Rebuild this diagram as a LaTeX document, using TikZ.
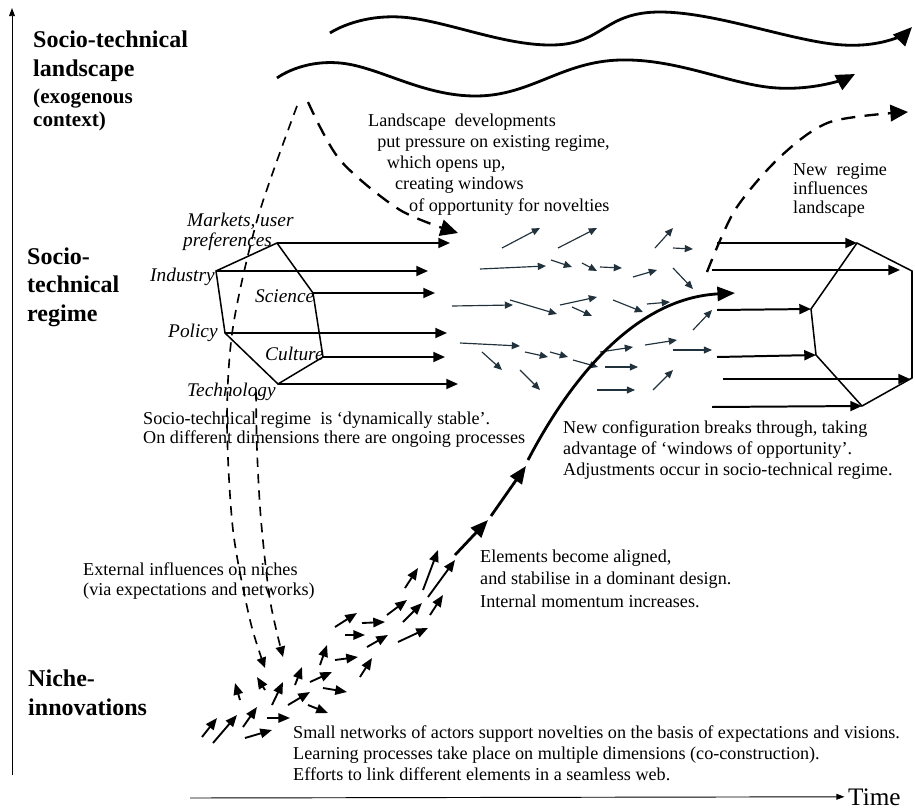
\documentclass[tikz,border=0pt]{standalone}
\usepackage{fontspec}
\setmainfont{Liberation Serif}
\usepackage{tikz}
\usetikzlibrary{arrows.meta}
\definecolor{drift}{RGB}{33,50,60}
\tikzset{
    level-title/.style = {font=\fontsize{20.5}{24}\selectfont\bfseries, align=left, anchor=base west, inner sep=0pt},
    level-subtitle/.style = {font=\fontsize{18}{19.5}\selectfont\bfseries, align=left, anchor=base west, inner sep=0pt},
    note-text/.style = {font=\fontsize{15.5}{#1}\selectfont, align=left, anchor=base west, inner sep=0pt},
    note-text/.default = 18pt,
    dimension-label/.style = {font=\fontsize{16.5}{17}\selectfont\itshape, align=left, anchor=base west, inner sep=0pt},
    axis-arrow/.style = {line width=0.8pt, -{Triangle[length=7pt,width=5pt]}},
    wave-arrow/.style = {line width=2.4pt, -{Triangle[length=16pt,width=14pt]}},
    influence/.style = {line width=1.4pt, dash pattern=on 8pt off 6pt, -{Triangle[length=9pt,width=8pt]}},
    pressure/.style = {line width=2pt, dash pattern=on 12pt off 8pt, -{Triangle[length=15pt,width=14pt]}},
    regime-line/.style = {line width=1.3pt, line join=miter},
    regime-arrow/.style = {line width=1.7pt, -{Triangle[length=10pt,width=8.5pt]}},
    drift-arrow/.style = {draw=drift, line width=1pt, -{Triangle[length=7pt,width=6pt]}},
    niche-arrow/.style = {line width=1.6pt, -{Triangle[length=10pt,width=8pt]}},
    breakthrough/.style = {line width=2.4pt, -{Triangle[length=15pt,width=12pt]}},
}

\begin{document}
\begin{tikzpicture}[x=0.03cm, y=-0.03cm]
\useasboundingbox (0,0) rectangle (915,809);

% axes
\coordinate (level-foot) at (12,775);
\coordinate (level-head) at (12,8);
\draw[axis-arrow] (level-foot) -- (level-head);
\node[anchor=base west, inner sep=0pt, font=\fontsize{21.5}{22}\selectfont] (time) at (848,805) {Time};
\coordinate (time-foot) at (190,798);
\draw[axis-arrow] (time-foot) -- ([xshift=-3pt]time.west);

% level titles
\node[level-title] (landscape-title) at (33,76) {Socio-technical\\landscape};
\node[level-subtitle] (landscape-subtitle) at (33,126) {(exogenous\\context)};
\node[level-title] (regime-title) at (27,321) {Socio-\\technical\\regime};
\node[level-title] (niche-title) at (28,715) {Niche-\\innovations};

% landscape
\draw[wave-arrow] plot[smooth, tension=0.7] coordinates {(330,33) (400,17) (553,45) (660,12) (843,45) (912,27)};
\draw[wave-arrow] plot[smooth, tension=0.7] coordinates {(277,78) (340,63) (477,96) (620,60) (777,88) (855,74)};

\draw[influence] plot[smooth] coordinates {(297,106) (258,217) (233,327) (227,420) (233,530) (250,620) (265,668)};
\draw[influence] plot[smooth] coordinates {(256,392) (257,450) (261,520) (270,600) (283,657)};
\draw[pressure] plot[smooth] coordinates {(308,102) (340,160) (400,210) (458,233)};
\draw[pressure] plot[smooth] coordinates {(707,272) (735,210) (780,157) (830,122) (908,112)};

% existing regime
\coordinate (markets) at (277,243);
\coordinate (science) at (313,293);
\coordinate (culture) at (323,357);
\coordinate (technology) at (278,384);
\coordinate (policy) at (225,333);
\coordinate (industry) at (216,271);
\draw[regime-line] (markets) -- (science) -- (culture) -- (technology) -- (policy) -- (industry) -- cycle;

\coordinate (markets-end) at (450,243);
\coordinate (industry-end) at (428,271);
\coordinate (science-end) at (435,293);
\coordinate (policy-end) at (447,333);
\coordinate (culture-end) at (445,357);
\coordinate (technology-end) at (458,384);
\draw[regime-arrow] (markets) -- (markets-end);
\draw[regime-arrow] (industry) -- (industry-end);
\draw[regime-arrow] (science) -- (science-end);
\draw[regime-arrow] (policy) -- (policy-end);
\draw[regime-arrow] (culture) -- (culture-end);
\draw[regime-arrow] (technology) -- (technology-end);

\node[dimension-label] (markets-label) at (183,246) {\hspace*{3.4pt}Markets, user\\preferences};
\node[dimension-label] (industry-label) at (150,281) {Industry};
\node[dimension-label] (science-label) at (255,302) {Science};
\node[dimension-label] (policy-label) at (168,337) {Policy};
\node[dimension-label] (culture-label) at (265,360) {Culture};
\node[dimension-label] (technology-label) at (187,396) {Technology};

% windows of opportunity
\foreach \sx/\sy/\tx/\ty in {502/248/540/228, 558/248/597/228, 480/269/546/266, 551/260/572/267,
    582/263/597/271, 600/267/622/268, 633/277/657/270, 655/248/673/228, 673/248/693/249,
    673/268/693/289, 452/306/513/305, 510/300/557/314, 560/305/597/297, 572/307/592/316,
    613/300/643/312, 647/304/670/302, 693/330/712/310, 460/343/520/346, 482/352/502/370,
    525/352/548/357, 550/352/568/357, 573/360/598/367, 520/370/540/390, 600/352/633/347,
    645/345/677/340, 673/350/712/350, 605/367/638/367, 597/390/635/390, 653/390/673/370}
    \draw[drift-arrow] (\sx,\sy) -- (\tx,\ty);

% new regime
\coordinate (new-top) at (857,243);
\coordinate (new-upper) at (912,271);
\coordinate (new-lower) at (912,378);
\coordinate (new-bottom) at (862,406);
\coordinate (new-left-low) at (816,355);
\coordinate (new-left-high) at (811,309);
\draw[regime-line] (new-top) -- (new-upper) -- (new-lower) -- (new-bottom) -- (new-left-low) -- (new-left-high) -- cycle;

\coordinate (new-start-1) at (717,243);
\coordinate (new-start-2) at (712,270);
\coordinate (new-start-3) at (717,310);
\coordinate (new-start-4) at (717,357);
\coordinate (new-start-5) at (723,379);
\coordinate (new-start-6) at (712,407);
\coordinate (new-end-2) at (900,270);
\coordinate (new-end-5) at (910,379);
\draw[regime-arrow] (new-start-1) -- (new-top);
\draw[regime-arrow] (new-start-2) -- (new-end-2);
\draw[regime-arrow] (new-start-3) -- (new-left-high);
\draw[regime-arrow] (new-start-4) -- (new-left-low);
\draw[regime-arrow] (new-start-5) -- (new-end-5);
\draw[regime-arrow] (new-start-6) -- (new-bottom);

% niches
\foreach \sx/\sy/\tx/\ty in {202/737/217/718, 213/743/237/715, 243/727/257/707, 245/738/272/730,
    267/718/290/718, 240/700/235/683, 265/690/257/677, 272/705/283/682, 288/705/310/692,
    295/685/302/667, 308/705/328/713, 310/682/332/672, 323/688/347/692, 320/665/327/645,
    335/660/358/657, 360/677/372/658, 335/627/357/613, 345/635/365/635, 362/623/385/622,
    367/647/388/635, 387/615/407/600, 398/642/428/628, 403/622/422/603, 430/615/443/595,
    405/588/418/568, 423/590/438/550, 428/597/455/560}
    \draw[niche-arrow] (\sx,\sy) -- (\tx,\ty);

\coordinate (take-off) at (455,555);
\coordinate (aligned) at (488,520);
\coordinate (momentum) at (491,516);
\coordinate (dominant) at (526,466);
\coordinate (breaking) at (528,460);
\coordinate (new-config) at (735,293);
\draw[breakthrough] (take-off) -- (aligned);
\draw[breakthrough] (momentum) -- (dominant);
\draw[breakthrough] (breaking) .. controls (575,370) and (640,298) .. (new-config);

% notes
\node[note-text=18.1pt] (pressure-note) at (368,211) {Landscape\ \ developments\\\hspace*{7.7pt}put pressure on existing regime,\\\hspace*{16pt}which opens up,\\\hspace*{23pt}creating windows\\\hspace*{35pt}of opportunity for novelties};
\node[note-text=16.2pt] (influence-note) at (793,213) {New\ \ regime\\influences\\landscape};
\node[note-text=15.6pt] (stable-note) at (143,443) {Socio-technical regime\ \ is `dynamically stable'.\\On different dimensions there are ongoing processes};
\node[note-text=17.9pt] (breakthrough-note) at (563,475) {New configuration breaks through, taking\\advantage of `windows of opportunity'.\\Adjustments occur in socio-technical regime.};
\node[note-text=19pt] (aligned-note) at (480,607) {Elements become aligned,\\and stabilise in a dominant design.\\Internal momentum increases.};
\node[note-text=17pt] (external-note) at (83,595) {External influences on niches\\(via expectations and networks)};
\node[note-text=17.9pt] (niche-note) at (293,780) {Small networks of actors support novelties on the basis of expectations and visions.\\Learning processes take place on multiple dimensions (co-construction).\\Efforts to link different elements in a seamless web.};
\end{tikzpicture}
\end{document}
